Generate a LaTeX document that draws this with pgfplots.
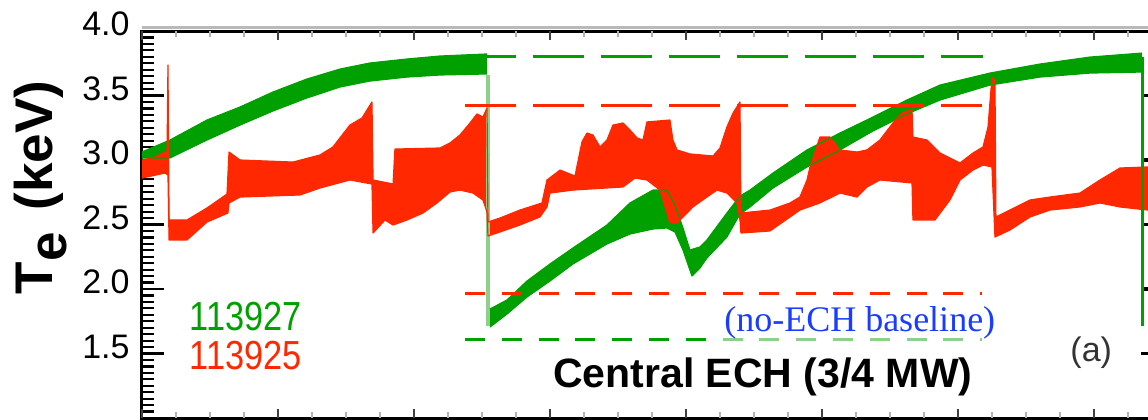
\documentclass[border=0pt]{standalone}
\usepackage{pgfplots}
\pgfplotsset{compat=1.18}
\usepackage{pgfplotstable}
\usepgfplotslibrary{fillbetween}
\usepackage{fontspec}
\setmainfont{Liberation Sans}
\newfontfamily\serifface{Liberation Serif}

\definecolor{shotgreen}{RGB}{0,160,0}
\definecolor{shotred}{RGB}{255,40,0}
\definecolor{palegreen}{RGB}{140,208,140}
\definecolor{noteblue}{RGB}{26,60,255}

% Shot 113927, before the central ECH turns on: envelope of the sawtoothing Te
\pgfplotstableread{
t V
0     3.062
0.206 3.155
0.478 3.310
0.721 3.411
0.963 3.527
1.213 3.628
1.456 3.705
1.676 3.752
1.949 3.783
2.191 3.806
2.537 3.822
}\greenupA
\pgfplotstableread{
t V
0     3.016
0.206 3.016
0.478 3.155
0.721 3.271
0.963 3.380
1.213 3.481
1.456 3.566
1.676 3.612
1.949 3.643
2.191 3.659
2.537 3.667
}\greenloA

% Shot 113927, with central ECH
\pgfplotstableread{
t V
2.559 1.845
2.684 1.915
2.831 2.062
3.000 2.194
3.169 2.318
3.419 2.496
3.588 2.667
3.757 2.767
3.860 2.767
3.919 2.651
3.978 2.473
4.029 2.302
4.103 2.326
4.154 2.380
4.301 2.589
4.397 2.721
4.471 2.767
4.640 2.899
4.890 3.078
5.132 3.209
5.375 3.333
5.625 3.465
5.868 3.581
6.235 3.674
6.603 3.744
6.971 3.798
7.353 3.829
}\greenupB
\pgfplotstableread{
t V
2.559 1.705
2.684 1.806
2.831 1.938
3.000 2.062
3.169 2.194
3.419 2.349
3.588 2.426
3.757 2.465
3.860 2.473
3.919 2.442
3.978 2.302
4.044 2.101
4.103 2.163
4.154 2.240
4.301 2.403
4.397 2.581
4.471 2.636
4.640 2.783
4.890 2.946
5.132 3.078
5.375 3.225
5.625 3.357
5.868 3.465
6.235 3.581
6.603 3.643
6.971 3.674
7.353 3.682
}\greenloB

% Shot 113925: upper and lower envelope, sawtooth crashes included
\pgfplotstableread{
t V
0     3.000
0.096 3.023
0.169 3.062
0.184 3.039
0.191 3.736
0.199 2.535
0.331 2.535
0.478 2.628
0.625 2.736
0.640 3.062
0.721 3.000
1.110 2.984
1.309 3.039
1.404 3.101
1.529 3.271
1.618 3.326
1.691 3.450
1.699 2.845
1.846 2.814
1.860 3.085
2.191 3.093
2.265 3.132
2.338 3.194
2.412 3.287
2.463 3.357
2.507 3.333
2.537 3.403
2.544 2.519
2.632 2.550
2.779 2.612
2.941 2.667
2.978 2.845
3.074 2.922
3.184 2.876
3.235 3.140
3.272 3.209
3.316 3.194
3.368 3.101
3.419 3.155
3.463 3.271
3.537 3.287
3.588 3.233
3.640 3.171
3.684 3.155
3.713 3.295
3.882 3.310
3.904 3.155
3.934 3.078
4.029 3.047
4.199 3.031
4.250 3.093
4.301 3.256
4.346 3.364
4.397 3.450
4.404 2.589
4.618 2.612
4.765 2.667
4.838 2.713
4.890 2.845
4.912 2.946
4.985 3.178
5.059 3.178
5.132 3.078
5.257 3.062
5.331 3.078
5.426 3.155
5.522 3.287
5.596 3.372
5.662 3.388
5.669 3.178
5.772 3.155
5.868 3.054
6.015 2.977
6.110 3.054
6.184 3.101
6.221 3.256
6.250 3.643
6.272 3.620
6.279 2.558
6.382 2.612
6.529 2.690
6.676 2.713
6.897 2.744
7.044 2.845
7.191 2.938
7.397 2.946
}\redup
\pgfplotstableread{
t V
0     2.860
0.169 2.899
0.191 2.884
0.199 2.380
0.331 2.380
0.478 2.519
0.632 2.589
0.640 2.667
0.721 2.713
1.162 2.729
1.309 2.783
1.529 2.845
1.691 2.814
1.699 2.434
1.787 2.535
1.846 2.496
1.949 2.535
2.066 2.589
2.169 2.667
2.265 2.752
2.338 2.767
2.434 2.744
2.507 2.690
2.537 2.597
2.544 2.411
2.632 2.442
2.779 2.496
2.926 2.558
2.978 2.636
3.000 2.744
3.169 2.767
3.537 2.791
3.625 2.860
3.713 2.845
3.809 2.767
3.860 2.589
3.882 2.512
3.934 2.512
3.978 2.558
4.051 2.636
4.154 2.713
4.228 2.767
4.301 2.744
4.375 2.667
4.397 2.535
4.404 2.434
4.618 2.450
4.765 2.558
4.838 2.612
4.985 2.667
5.132 2.744
5.257 2.713
5.331 2.791
5.426 2.845
5.662 2.822
5.669 2.535
5.831 2.535
5.941 2.690
6.015 2.845
6.110 2.922
6.184 2.961
6.250 2.946
6.272 2.403
6.382 2.457
6.529 2.558
6.676 2.612
6.897 2.636
7.044 2.667
7.191 2.636
7.397 2.612
}\redlo

\pgfplotsset{
  frame/.style={
    at={(0,0)}, anchor=south west,
    width=504pt, height=193.5pt, scale only axis,
    xmin=0, xmax=7.412, ymin=1, ymax=4,
    tick align=inside,
  },
}

\begin{document}
\begin{tikzpicture}
% short time ticks on the top and bottom frame, short marks on the right frame
\begin{axis}[
  frame,
  axis line style={draw=none},
  xtick={0,...,7}, xticklabels={},
  minor xtick={0.25,0.5,...,7.25},
  xtick pos=both,
  ytick={1.5,2,...,3.5}, yticklabels={},
  ytick pos=right,
  major tick length=4.5pt, minor tick length=3pt,
  xtick style={gray!60, line width=1pt},
  major x tick style={black!75, line width=1.2pt},
  ytick style={black, line width=1.6pt},
]
\end{axis}

\begin{axis}[
  frame,
  clip=false,
  axis line style={line width=1.5pt},
  xtick=\empty,
  ytick={1,1.5,...,4},
  yticklabels={{},1.5,2.0,2.5,3.0,3.5,4.0},
  minor y tick num=9,
  ytick pos=left,
  major tick length=11pt, minor tick length=6pt,
  ytick style={black, line width=1.1pt},
  yticklabel style={font=\fontsize{17}{17}\selectfont, inner sep=0pt,
    xshift=-6pt, yshift=3.5pt},
  ylabel={\fontsize{26.5}{26.5}\selectfont\bfseries T\raisebox{-7pt}{e}\hspace{11pt}(keV)},
  ylabel style={at={(axis description cs:-0.1002,0.5956)}, anchor=center,
    inner sep=0pt},
]
% thin grey rule above the top frame
\draw[gray!55, line width=1.5pt]
  ([yshift=1.75pt]rel axis cs:0,1) -- ([yshift=1.75pt]rel axis cs:1,1);

% 113927 before ECH
\addplot[shotgreen, line width=0.6pt, line join=round, name path=gua] table {\greenupA};
\addplot[shotgreen, line width=0.6pt, line join=round, name path=gla] table {\greenloA};
\addplot[shotgreen] fill between[of=gua and gla];
% drop when the central ECH turns on
\addplot[palegreen, line width=2.2pt] coordinates {(2.544,3.66) (2.544,1.71)};
% 113927 with ECH
\addplot[shotgreen, line width=0.6pt, line join=round, name path=gub] table {\greenupB};
\addplot[shotgreen, line width=0.6pt, line join=round, name path=glb] table {\greenloB};
\addplot[shotgreen] fill between[of=gub and glb];

% 113925
\addplot[shotred, line width=0.6pt, line join=round, name path=ru] table {\redup};
\addplot[shotred, line width=0.6pt, line join=round, name path=rl] table {\redlo};
\addplot[shotred] fill between[of=ru and rl];

% second ECH turn-on of 113927
\addplot[shotgreen, line width=1.5pt] coordinates {(7.36,3.80) (7.36,1.71)};

% reference levels
\addplot[shotgreen, line width=1.5pt, dash pattern=on 25.5pt off 8.5pt]
  coordinates {(2.375,3.806) (6.184,3.806)};
\addplot[shotred, line width=1.5pt, dash pattern=on 25.5pt off 8.5pt]
  coordinates {(2.375,3.419) (6.176,3.419)};
\addplot[shotred, line width=1.5pt, dash pattern=on 10pt off 8.4pt]
  coordinates {(2.375,1.969) (6.176,1.969)};
\addplot[palegreen, line width=1.5pt, dash pattern=on 10pt off 8.4pt]
  coordinates {(2.375,1.612) (6.176,1.612)};
\addplot[shotgreen, line width=1.5pt, dash pattern=on 10pt off 8.4pt]
  coordinates {(2.375,1.612) (4.176,1.612)};

% labels
\node[anchor=west, inner sep=0pt, text=shotgreen, font=\fontsize{17.2}{17.2}\selectfont]
  at (axis cs:0.346,1.787) {\scalebox{1}[1.18]{113927}};
\node[anchor=west, inner sep=0pt, text=shotred, font=\fontsize{17.2}{17.2}\selectfont]
  at (axis cs:0.346,1.488) {\scalebox{1}[1.18]{113925}};
\node[anchor=base west, inner sep=0pt, font=\fontsize{20.5}{20.5}\selectfont\bfseries]
  at (axis cs:3.022,1.240) {Central ECH (3/4 MW)};
\node[anchor=base west, inner sep=0pt, text=noteblue, font=\fontsize{18}{18}\selectfont\serifface]
  at (axis cs:4.279,1.669) {(no-ECH baseline)};
\node[anchor=west, inner sep=0pt, text=black!80, font=\fontsize{17}{17}\selectfont]
  at (axis cs:6.824,1.508) {(a)};
\end{axis}
\pgfresetboundingbox
\useasboundingbox (-71pt,-0.5pt) rectangle (503pt,209pt);
\end{tikzpicture}
\end{document}
